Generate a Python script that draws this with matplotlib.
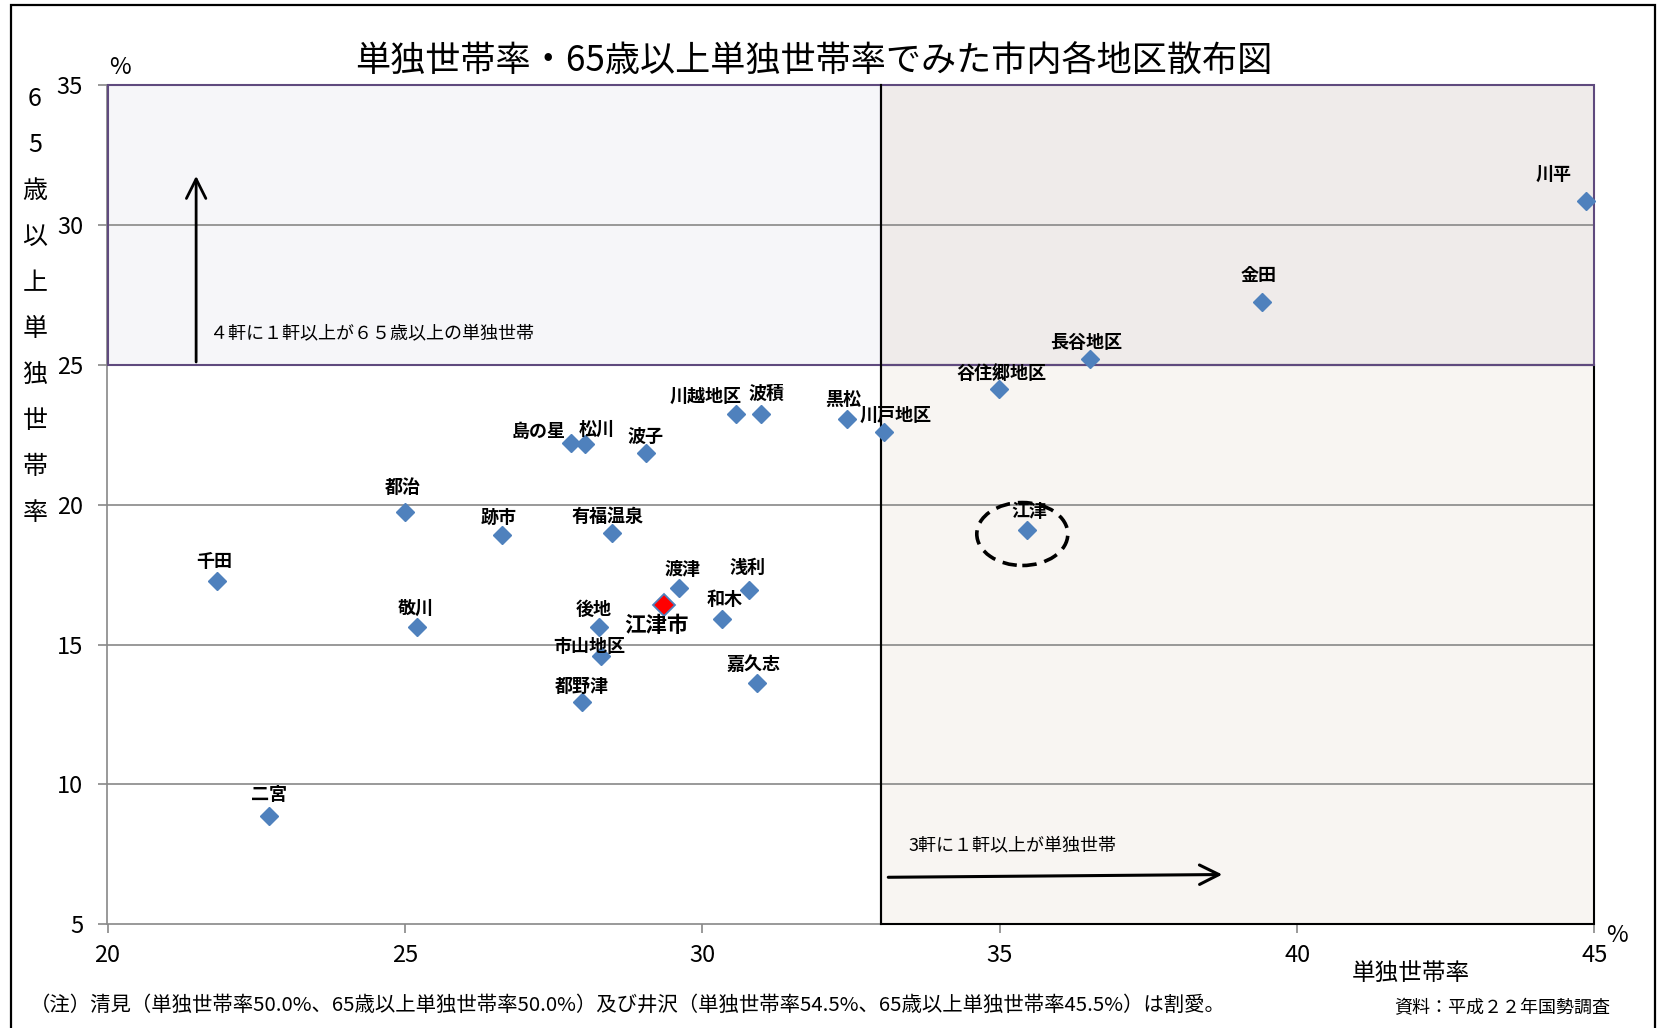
import matplotlib
matplotlib.use("Agg")
import matplotlib.pyplot as plt
from matplotlib.patches import Rectangle, Ellipse, FancyArrowPatch

plt.rcParams['font.family'] = ['Noto Sans CJK JP', 'DejaVu Sans']

# ---- data ----
districts = ['川平', '金田', '長谷地区', '谷住郷地区', '江津', '川戸地区', '黒松', '波積',
             '川越地区', '波子', '松川', '島の星', '有福温泉', '跡市', '都治', '千田',
             '敬川', '二宮', '渡津', '浅利', '和木', '後地', '市山地区', '嘉久志', '都野津']
single_rate = [44.86, 39.41, 36.52, 34.98, 35.46, 33.05, 32.43, 30.98,
               30.56, 29.05, 28.02, 27.79, 28.49, 26.63, 25.01, 21.84,
               25.21, 22.71, 29.61, 30.78, 30.33, 28.26, 28.29, 30.92, 27.98]
elderly_single_rate = [30.87, 27.24, 25.22, 24.14, 19.11, 22.61, 23.05, 23.24,
                       23.24, 21.84, 22.16, 22.22, 18.98, 18.92, 19.74, 17.26,
                       15.62, 8.87, 17.01, 16.95, 15.93, 15.62, 14.59, 13.64, 12.96]
city_name = '江津市'
city_single_rate = 29.36
city_elderly_single_rate = 16.43

x_ticks = [20, 25, 30, 35, 40, 45]
y_ticks = [5, 10, 15, 20, 25, 30, 35]
x_threshold = 33.0   # 3軒に1軒
y_threshold = 25.0   # 4軒に1軒

title = '単独世帯率・65歳以上単独世帯率でみた市内各地区散布図'
y_label_chars = ['6', '5', '歳', '以', '上', '単', '独', '世', '帯', '率']
x_label = '単独世帯率'
note_text = '（注）清見（単独世帯率50.0%、65歳以上単独世帯率50.0%）及び井沢（単独世帯率54.5%、65歳以上単独世帯率45.5%）は割愛。'
source_text = '資料：平成２２年国勢調査'
upper_text = '４軒に１軒以上が６５歳以上の単独世帯'
right_text = '3軒に１軒以上が単独世帯'

# label offsets (pixels, label centre relative to marker)
label_offsets = {
    '千田': (-3, 20), '都治': (-3, 24), '跡市': (-3, 17), '敬川': (-2, 19), '二宮': (0, 22),
    '島の星': (-32, 11), '松川': (12, 15), '波子': (0, 17), '川越地区': (-30, 18),
    '波積': (6, 21), '黒松': (-4, 20), '川戸地区': (12, 16), '有福温泉': (-5, 17),
    '渡津': (3, 19), '浅利': (-1, 23), '和木': (3, 19), '後地': (-5, 18),
    '市山地区': (-11, 10), '嘉久志': (-4, 18), '都野津': (0, 15), '長谷地区': (-4, 16),
    '谷住郷地区': (3, 15), '江津': (2, 18), '川平': (-33, 26), '金田': (-3, 27),
}

W, H = 1658, 1028
fig = plt.figure(figsize=(W / 100, H / 100), dpi=100)
ax = fig.add_axes([107.5 / W, 1 - 924.3 / H, (1594.5 - 107.5) / W, (924.3 - 85) / H])

ax.set_xlim(x_ticks[0], x_ticks[-1])
ax.set_ylim(y_ticks[0], y_ticks[-1])
ax.set_xticks(x_ticks)
ax.set_yticks(y_ticks)

grey = '#888888'
purple = '#5F4A7E'

# regions
xmin, xmax = x_ticks[0], x_ticks[-1]
ymin, ymax = y_ticks[0], y_ticks[-1]
regions = [
    ((xmin, y_threshold), x_threshold - xmin, ymax - y_threshold, '#F6F6F9', purple),
    ((x_threshold, y_threshold), xmax - x_threshold, ymax - y_threshold, '#EFEBEA', purple),
    ((x_threshold, ymin), xmax - x_threshold, y_threshold - ymin, '#F8F5F2', 'black'),
]
for xy, w, h, fc, ec in regions:
    ax.add_patch(Rectangle(xy, w, h, facecolor=fc, edgecolor='none', zorder=0.5))
for xy, w, h, fc, ec in regions[::-1]:
    ax.add_patch(Rectangle(xy, w, h, facecolor='none', edgecolor=ec, lw=1.5,
                           zorder=2, clip_on=False))
ax.plot([x_threshold, x_threshold], [ymin, ymax], color='black', lw=1.5, zorder=2.1,
        clip_on=False)

for v in y_ticks[1:]:
    ax.axhline(v, color=grey, lw=1.2, zorder=1)

for s in ['top', 'right']:
    ax.spines[s].set_visible(False)
for s in ['left', 'bottom']:
    ax.spines[s].set_color(grey)
    ax.spines[s].set_linewidth(1.2)
    ax.spines[s].set_zorder(1.5)

ax.tick_params(axis='both', direction='out', length=6.5, width=1.2, color=grey,
               labelsize=17)
ax.tick_params(axis='x', pad=8)
ax.tick_params(axis='y', pad=11)

# points
ax.plot(single_rate, elderly_single_rate, linestyle='none', marker='D', markersize=9,
        color='#4F81BD', markeredgecolor='#4F81BD', zorder=4, clip_on=False)
ax.plot([city_single_rate], [city_elderly_single_rate], linestyle='none', marker='D',
        markersize=11.5, markerfacecolor='#FF0000', markeredgecolor='#4F81BD',
        markeredgewidth=1.3, zorder=5)

for name, xv, yv in zip(districts, single_rate, elderly_single_rate):
    dx, dy = label_offsets[name]
    ax.annotate(name, (xv, yv), xytext=(dx, dy), textcoords='offset pixels',
                ha='center', va='center', fontsize=13, fontweight='bold', zorder=6)
ax.annotate(city_name, (city_single_rate, city_elderly_single_rate), xytext=(-8, -21),
            textcoords='offset pixels', ha='center', va='center', fontsize=15.5,
            fontweight='bold', zorder=6)

# highlight ellipse
ax.add_patch(Ellipse((35.38, 18.95), 1.53, 2.25, facecolor='none', edgecolor='black',
                     lw=2.6, linestyle=(0, (4, 2.2)), zorder=3))

# arrows and annotation texts
ax.add_patch(FancyArrowPatch((21.49, y_threshold), (21.49, 31.85),
                             arrowstyle='->,head_length=0.7,head_width=0.35',
                             mutation_scale=20, lw=2.0, color='black', zorder=3))
ax.add_patch(FancyArrowPatch((33.08, 6.68), (38.79, 6.78),
                             arrowstyle='->,head_length=0.7,head_width=0.35',
                             mutation_scale=20, lw=2.2, color='black', zorder=3))
ax.text(21.72, 26.14, upper_text, ha='left', va='center', fontsize=13, zorder=6)
ax.text(33.47, 7.84, right_text, ha='left', va='center', fontsize=13, zorder=6)

# titles and labels
fig.text(814 / W, 1 - 62 / H, title, ha='center', va='center', fontsize=25.3)
for i, ch in enumerate(y_label_chars):
    fig.text(35 / W, 1 - (99 + 46 * i) / H, ch, ha='center', va='center', fontsize=18)
fig.text(119.6 / W, 1 - 68 / H, '%', ha='center', va='center', fontsize=17)
fig.text(1617 / W, 1 - 935 / H, '%', ha='center', va='center', fontsize=17)
fig.text(1411 / W, 1 - 973 / H, x_label, ha='center', va='center', fontsize=17)
fig.text(30 / W, 1 - 1005 / H, note_text, ha='left', va='center', fontsize=14.7)
fig.text(1610 / W, 1 - 1008 / H, source_text, ha='right', va='center', fontsize=13)

# outer frame
fig.add_artist(Rectangle((11.5 / W, -0.05), (1655.5 - 11.5) / W, 1.05 - 5 / H,
                         transform=fig.transFigure, facecolor='none',
                         edgecolor='black', lw=1.6))

fig.savefig('out.png', dpi=100)
